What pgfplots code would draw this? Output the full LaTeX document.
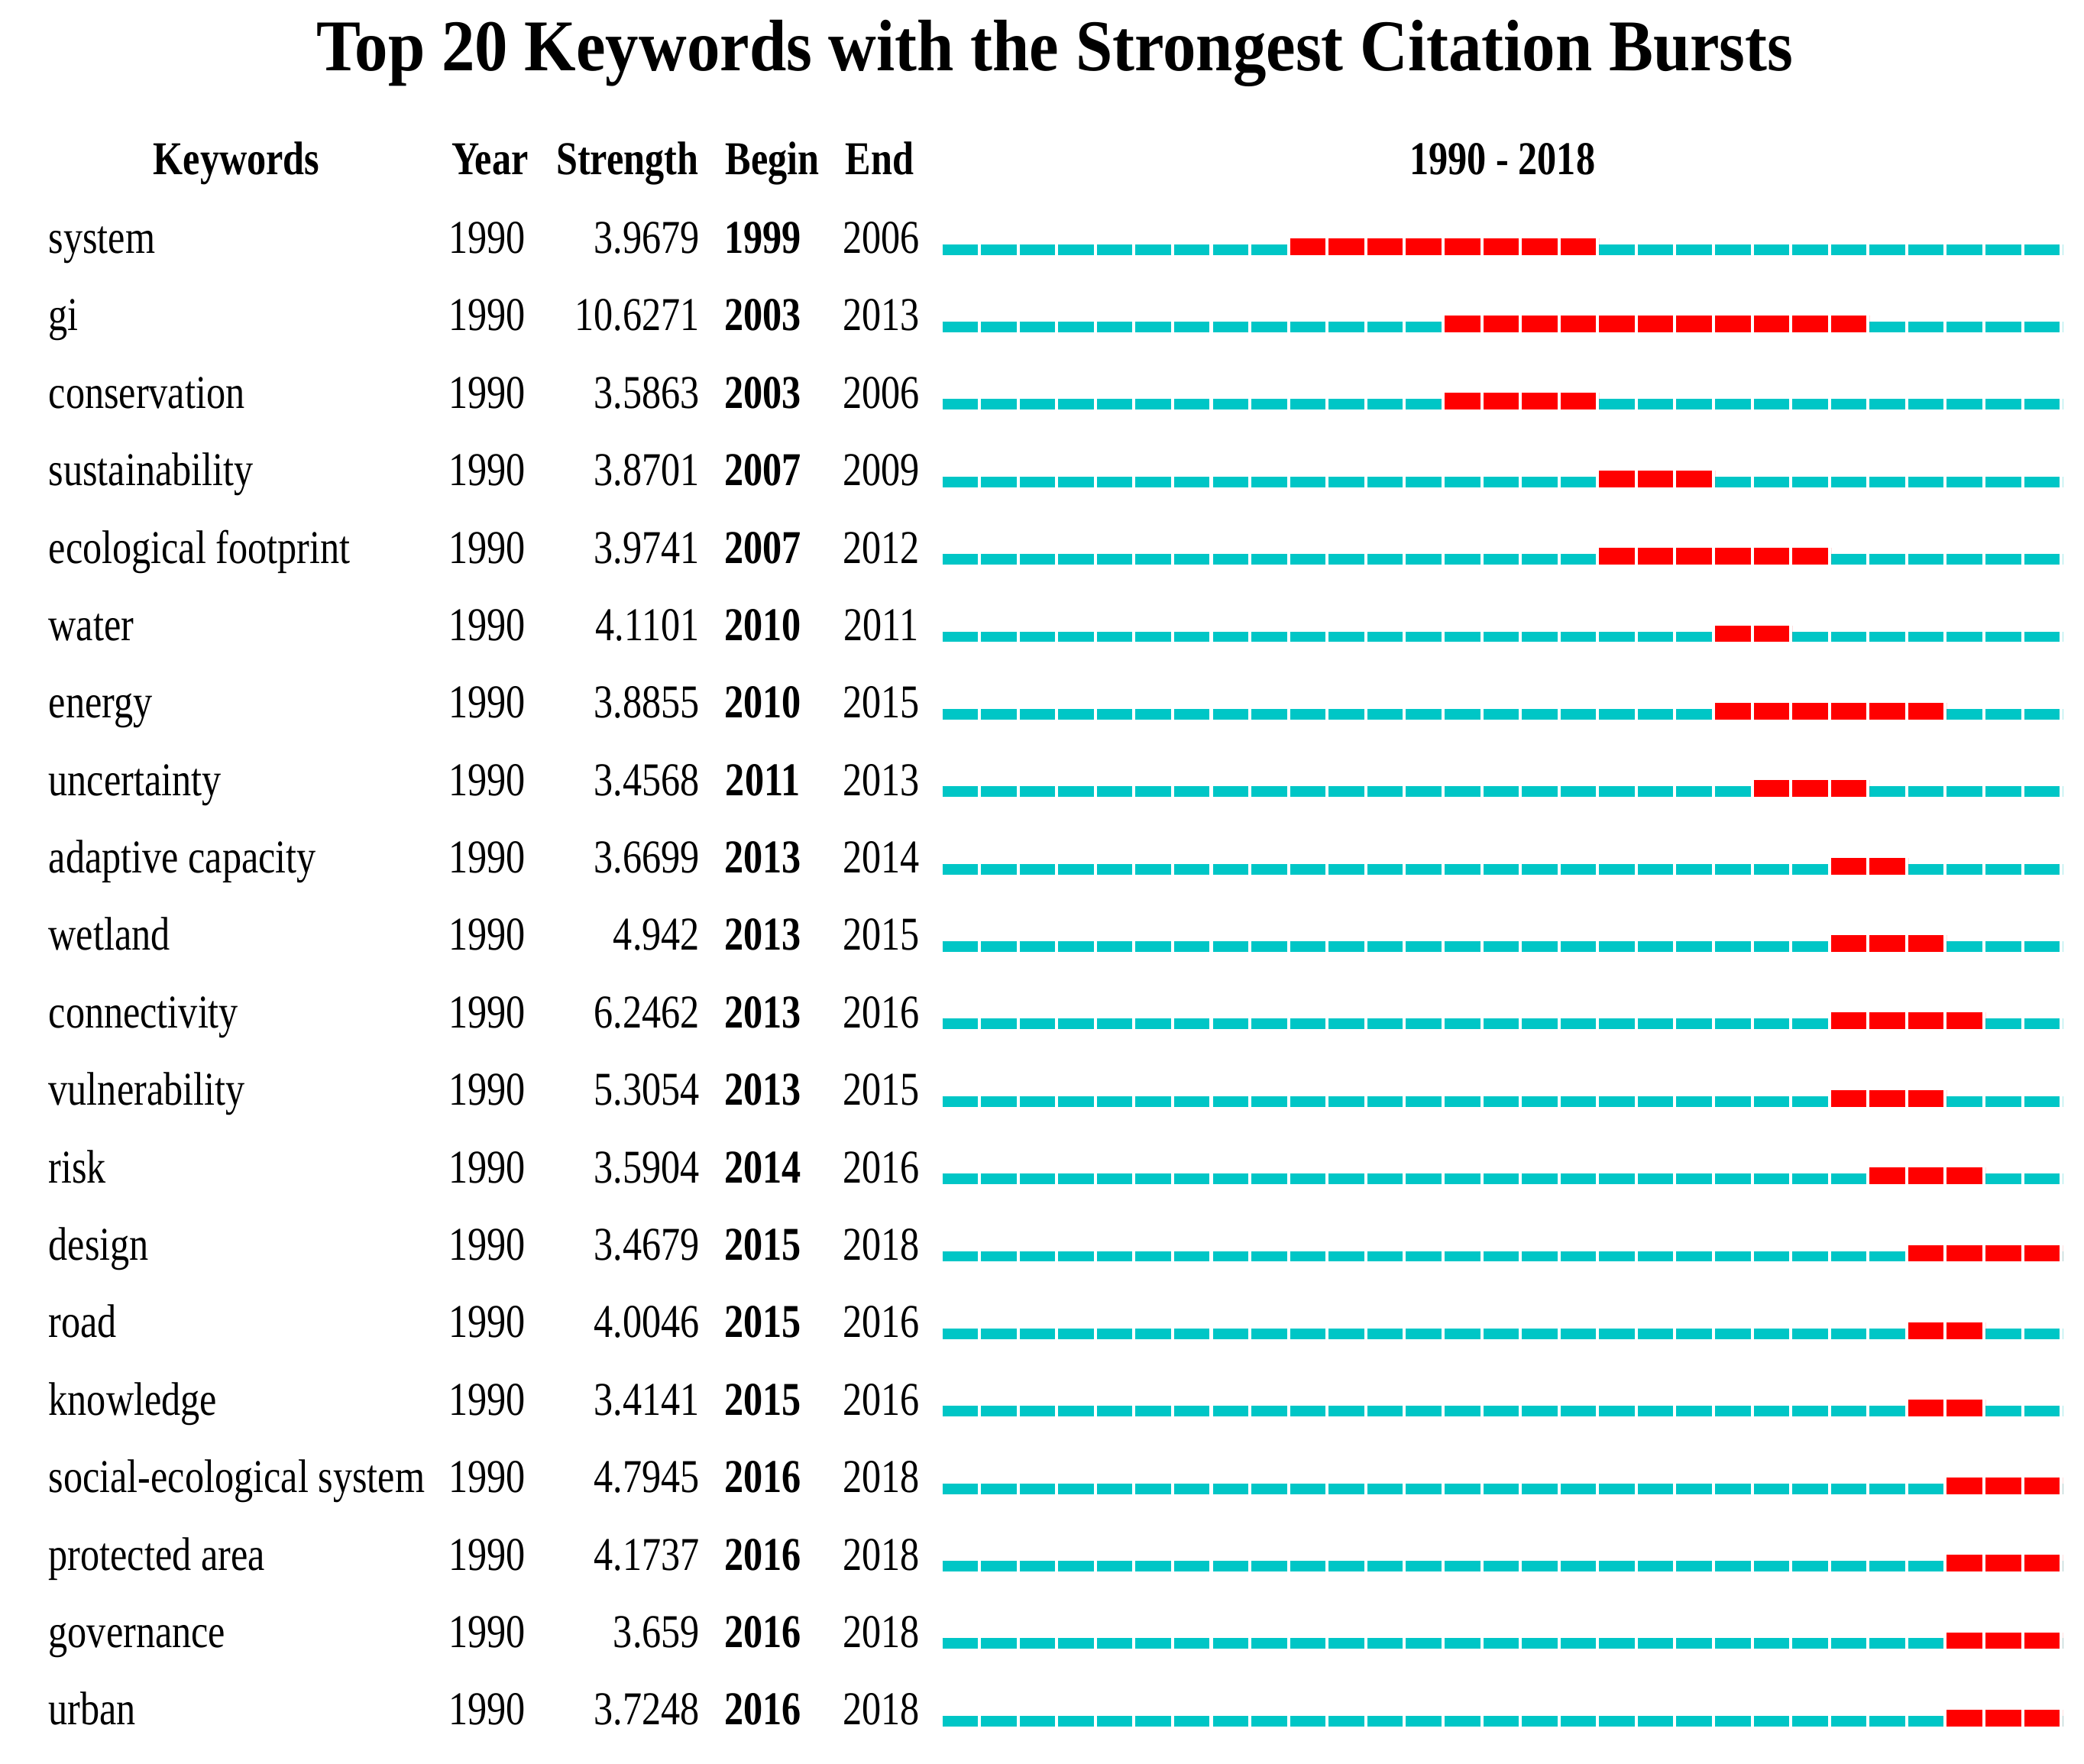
\documentclass[border=0pt]{standalone}
\usepackage{pgfplots}
\pgfplotsset{compat=1.18}
\usepackage{fontspec}
\setmainfont{Liberation Serif}
\newfontfamily\rowfont{Liberation Serif}[FakeStretch=0.815]
\newfontfamily\titlefont{Liberation Serif}[FakeStretch=0.91]
\definecolor{segcyan}{RGB}{0,198,198}
\definecolor{segred}{RGB}{255,0,0}

% row, keyword, strength, begin, end, end+1
\newcommand{\kwrow}[6]{%
 \addplot[segcyan, line width=2.8pt, dash pattern=on 9.36pt off 0.814pt] coordinates {(1990,#1) (2019,#1)};
 \addplot[segred, line width=4.4pt, yshift=0.8pt, dash pattern=on 9.36pt off 0.814pt] coordinates {(#4,#1) (#6,#1)};
 \node[anchor=base west, yshift=-1pt] at (axis cs:1966.85,#1) {#2};
 \node[anchor=base, yshift=-1pt] at (axis cs:1978.22,#1) {1990};
 \node[anchor=base east, yshift=-1pt] at (axis cs:1983.74,#1) {#3};
 \node[anchor=base, yshift=-1pt] at (axis cs:1985.36,#1) {\bfseries #4};
 \node[anchor=base, yshift=-1pt] at (axis cs:1988.42,#1) {#5};
}

\begin{document}
\begin{tikzpicture}[every node/.style={inner sep=0pt, font=\rowfont\fontsize{12.4}{14}\selectfont}]
\useasboundingbox (0,0) rectangle (548.8pt,464.45pt);
\begin{axis}[
  at={(248.15pt,1.05pt)}, anchor=south west,
  scale only axis, width=295.05pt, height=407.89pt,
  xmin=1990, xmax=2019, ymin=0.5, ymax=20.5, y dir=reverse,
  hide axis, clip=false]
\kwrow{1}{system}{3.9679}{1999}{2006}{2007}
\kwrow{2}{gi}{10.6271}{2003}{2013}{2014}
\kwrow{3}{conservation}{3.5863}{2003}{2006}{2007}
\kwrow{4}{sustainability}{3.8701}{2007}{2009}{2010}
\kwrow{5}{ecological footprint}{3.9741}{2007}{2012}{2013}
\kwrow{6}{water}{4.1101}{2010}{2011}{2012}
\kwrow{7}{energy}{3.8855}{2010}{2015}{2016}
\kwrow{8}{uncertainty}{3.4568}{2011}{2013}{2014}
\kwrow{9}{adaptive capacity}{3.6699}{2013}{2014}{2015}
\kwrow{10}{wetland}{4.942}{2013}{2015}{2016}
\kwrow{11}{connectivity}{6.2462}{2013}{2016}{2017}
\kwrow{12}{vulnerability}{5.3054}{2013}{2015}{2016}
\kwrow{13}{risk}{3.5904}{2014}{2016}{2017}
\kwrow{14}{design}{3.4679}{2015}{2018}{2019}
\kwrow{15}{road}{4.0046}{2015}{2016}{2017}
\kwrow{16}{knowledge}{3.4141}{2015}{2016}{2017}
\kwrow{17}{social-ecological system}{4.7945}{2016}{2018}{2019}
\kwrow{18}{protected area}{4.1737}{2016}{2018}{2019}
\kwrow{19}{governance}{3.659}{2016}{2018}{2019}
\kwrow{20}{urban}{3.7248}{2016}{2018}{2019}
\node[anchor=base, font=\titlefont\fontsize{19.2}{22}\selectfont\bfseries] at (axis cs:1992.92,-1.313) {Top 20 Keywords with the Strongest Citation Bursts};
\node[anchor=base, yshift=-0.4pt] at (axis cs:1971.73,0.008) {\bfseries Keywords};
\node[anchor=base, yshift=-0.4pt] at (axis cs:1978.29,0.008) {\bfseries Year};
\node[anchor=base, yshift=-0.4pt] at (axis cs:1981.85,0.008) {\bfseries Strength};
\node[anchor=base, yshift=-0.4pt] at (axis cs:1985.6,0.008) {\bfseries Begin};
\node[anchor=base, yshift=-0.4pt] at (axis cs:1988.38,0.008) {\bfseries End};
\node[anchor=base, yshift=-0.4pt] at (axis cs:2004.5,0.008) {\bfseries 1990 - 2018};
\end{axis}
\end{tikzpicture}
\end{document}
